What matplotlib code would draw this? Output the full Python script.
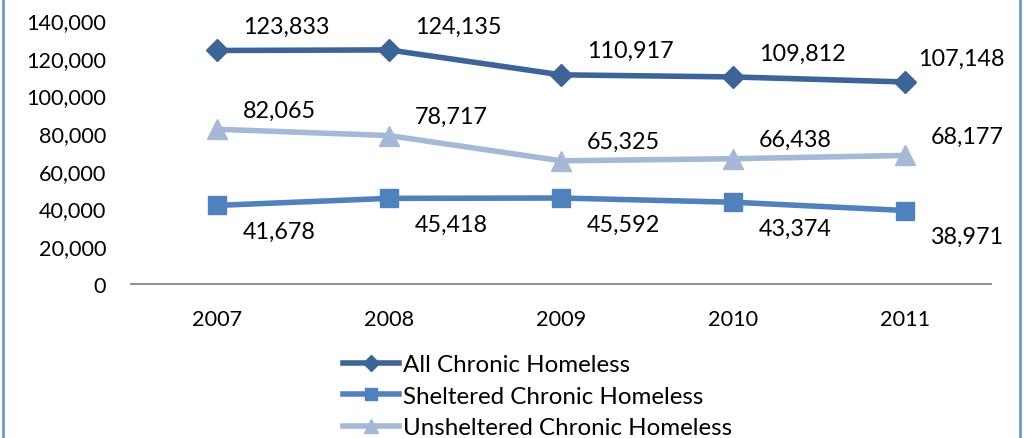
import matplotlib
matplotlib.use("Agg")
import matplotlib.pyplot as plt
from matplotlib.lines import Line2D

years = ["2007", "2008", "2009", "2010", "2011"]
all_chronic = [123833, 124135, 110917, 109812, 107148]
sheltered = [41678, 45418, 45592, 43374, 38971]
unsheltered = [82065, 78717, 65325, 66438, 68177]
yticks = [0, 20000, 40000, 60000, 80000, 100000, 120000, 140000]

plt.rcParams["font.family"] = ["Lato", "DejaVu Sans"]
W, H = 1026, 439
fig = plt.figure(figsize=(W / 100, H / 100), dpi=100)
ax = fig.add_axes([131 / W, 1 - 285 / H, (991 - 131) / W, (285 - 21) / H])

x = list(range(len(years)))
# name, values, colour, marker, marker size, legend marker size, label dy (px, up is +)
series = [
    ("All Chronic Homeless", all_chronic, "#3C6496", "D", 11, 8, 24),
    ("Sheltered Chronic Homeless", sheltered, "#4F81BD", "s", 13.5, 9, -26),
    ("Unsheltered Chronic Homeless", unsheltered, "#A5B8D6", "^", 14, 10, 19),
]
for name, vals, col, mk, ms, _, dy in series:
    ax.plot(x, vals, color=col, lw=4, marker=mk, ms=ms, label=name)
    for xi, v in zip(x, vals):
        lab = f"{v:,}"
        # excel nudges a label back inside the chart when it would overflow
        dx = 13 if (xi == x[-1] and len(lab) > 6) else 26
        ax.annotate(lab, (xi, v), xytext=(dx, dy), textcoords="offset pixels",
                    ha="left", va="center", fontsize=16.8, color="black")

ax.set_xlim(-0.5, 4.5)
ax.set_ylim(0, 140000)
ax.set_yticks(yticks)
ax.set_yticklabels([f"{t:,}" for t in yticks])
ax.set_xticks(x)
ax.set_xticklabels(years)
ax.tick_params(length=0, labelsize=15.6, colors="black")
ax.tick_params(axis="x", pad=18)
ax.tick_params(axis="y", pad=18)
for s in ["top", "right", "left"]:
    ax.spines[s].set_visible(False)
ax.spines["bottom"].set_color("#868686")
ax.spines["bottom"].set_linewidth(1.3)

handles = [Line2D([], [], color=c, lw=4, marker=m, ms=lms) for _, _, c, m, _, lms, _ in series]
fig.legend(handles, [s[0] for s in series], loc="upper left",
           bbox_to_anchor=(343 / W, 1 - 355 / H), frameon=False, fontsize=17.4,
           handlelength=2.3, handletextpad=0.2, labelspacing=0.44,
           borderpad=0, borderaxespad=0)

fig.add_artist(Line2D([3 / W, 3 / W], [0, 1], color="#6F96CC", lw=2))
fig.add_artist(Line2D([1020 / W, 1020 / W], [0, 1], color="#6F96CC", lw=2))

fig.savefig("out.png", dpi=100)
